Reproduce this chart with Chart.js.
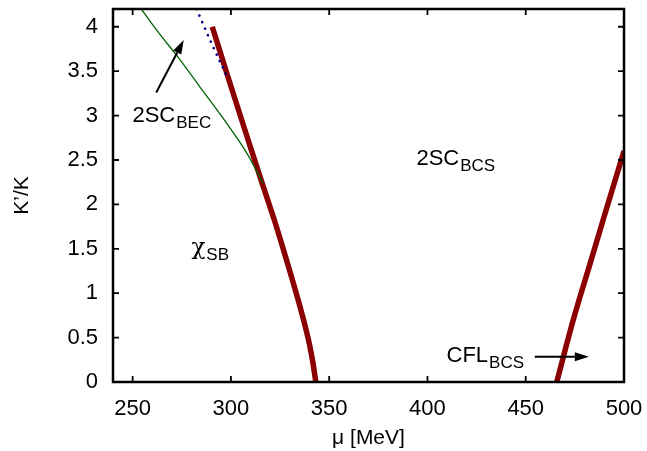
<!DOCTYPE html>
<html>
<head>
<meta charset="utf-8">
<script src="https://cdn.jsdelivr.net/npm/chart.js@4.4.0/dist/chart.umd.min.js"></script>
<style>
html, body { margin: 0; padding: 0; background: #fff; }
</style>
</head>
<body>
<canvas id="chart" width="647" height="451"></canvas>
<script>
// phase boundaries (mu in MeV, K'/K)
const boundaryMu = [290.5, 300, 310, 316, 322, 327, 331, 334.5, 338, 340, 341.7, 343.2];
const boundaryK = [4.0, 3.33, 2.64, 2.23, 1.83, 1.47, 1.17, 0.90, 0.61, 0.42, 0.22, 0];
const cflMu = [465.8, 474.2, 482.7, 491.2, 500];
const cflK = [0, 0.70, 1.33, 1.96, 2.6];
const becMu = [254.4, 263, 273, 284, 296, 308, 316.3];
const becK = [4.2, 3.94, 3.66, 3.33, 2.97, 2.58, 2.24];
const dotMu = [282.5, 290, 298];
const dotK = [4.2, 3.82, 3.44];

const xTicks = [250, 300, 350, 400, 450, 500];
const yTicks = [0, 0.5, 1, 1.5, 2, 2.5, 3, 3.5, 4];

// region labels: main text + subscript, anchored at baseline (mu, K)
const labelMain = ['2SC', 'χ', '2SC', 'CFL'];
const labelSub = ['BEC', 'SB', 'BCS', 'BCS'];
const labelMu = [249.9, 279.9, 394.4, 409.7];
const labelK = [2.93, 1.44, 2.44, 0.23];

// arrows (tail -> head)
const arrowFromMu = [262.0, 454.6];
const arrowFromK = [3.26, 0.285];
const arrowToMu = [276.0, 482.1];
const arrowToK = [3.85, 0.285];

const FONT = '"Liberation Sans", Arial, sans-serif';

function pts(xs, ys) {
    return xs.map((v, i) => ({ x: v, y: ys[i] }));
}

const decor = {
    id: 'decor',
    afterDraw(chart) {
        const { ctx, chartArea: a, scales: { x, y } } = chart;
        ctx.save();
        ctx.strokeStyle = '#000';
        ctx.fillStyle = '#000';

        // labels
        ctx.textAlign = 'left';
        ctx.textBaseline = 'alphabetic';
        labelMain.forEach((t, i) => {
            const px = x.getPixelForValue(labelMu[i]);
            const py = y.getPixelForValue(labelK[i]);
            // greek letters look like the symbol font in the original
            ctx.font = t === 'χ' ? '23px "DejaVu Serif", serif' : '22px ' + FONT;
            ctx.fillText(t, px, py);
            const w = ctx.measureText(t).width;
            ctx.font = '17px ' + FONT;
            ctx.fillText(labelSub[i], px + w + 1, py + 6);
        });

        // arrows
        ctx.lineWidth = 2;
        arrowFromMu.forEach((m, i) => {
            const x0 = x.getPixelForValue(m), y0 = y.getPixelForValue(arrowFromK[i]);
            const x1 = x.getPixelForValue(arrowToMu[i]), y1 = y.getPixelForValue(arrowToK[i]);
            const ang = Math.atan2(y1 - y0, x1 - x0);
            const c = Math.cos(ang), s = Math.sin(ang);
            const head = 14, half = 4.5;
            ctx.beginPath();
            ctx.moveTo(x0, y0);
            ctx.lineTo(x1 - head * c, y1 - head * s);
            ctx.stroke();
            ctx.beginPath();
            ctx.moveTo(x1, y1);
            ctx.lineTo(x1 - head * c + half * s, y1 - head * s - half * c);
            ctx.lineTo(x1 - head * c - half * s, y1 - head * s + half * c);
            ctx.closePath();
            ctx.fill();
        });

        // frame
        ctx.lineWidth = 2.5;
        ctx.strokeRect(a.left, a.top, a.right - a.left, a.bottom - a.top);

        // inward ticks on all four sides
        ctx.lineWidth = 1.8;
        ctx.beginPath();
        xTicks.forEach(v => {
            const px = x.getPixelForValue(v);
            ctx.moveTo(px, a.bottom); ctx.lineTo(px, a.bottom - 6);
            ctx.moveTo(px, a.top); ctx.lineTo(px, a.top + 6);
        });
        yTicks.forEach(v => {
            const py = y.getPixelForValue(v);
            ctx.moveTo(a.left, py); ctx.lineTo(a.left + 6, py);
            ctx.moveTo(a.right, py); ctx.lineTo(a.right - 6, py);
        });
        ctx.stroke();
        ctx.restore();
    }
};

const ctx = document.getElementById('chart').getContext('2d');
new Chart(ctx, {
    type: 'scatter',
    data: {
        datasets: [
            { data: pts(becMu, becK), borderColor: '#006400', borderWidth: 1.3 },
            { data: pts(dotMu, dotK), borderColor: '#00008b', borderWidth: 2.6,
              borderDash: [0.1, 7], borderCapStyle: 'round' },
            { data: pts(boundaryMu, boundaryK), borderColor: '#8b0000', borderWidth: 5.5 },
            { data: pts(cflMu, cflK), borderColor: '#8b0000', borderWidth: 5.5 }
        ].map(d => Object.assign({ showLine: true, pointRadius: 0, fill: false, cubicInterpolationMode: 'monotone' }, d))
    },
    options: {
        responsive: false,
        animation: false,
        layout: { padding: { top: 9, right: 23, left: 0, bottom: 0 } },
        plugins: { legend: { display: false }, tooltip: { enabled: false } },
        scales: {
            x: {
                type: 'linear', min: 240, max: 500,
                afterBuildTicks: s => { s.ticks = xTicks.map(v => ({ value: v })); },
                afterFit: s => { s.height = 69; s.paddingLeft = 0; s.paddingRight = 0; },
                grid: { display: false },
                border: { display: false },
                ticks: { color: '#000', font: { family: FONT, size: 22 }, padding: 6, maxRotation: 0, autoSkip: false },
                title: { display: true, text: 'μ [MeV]', color: '#000', font: { family: FONT, size: 21 }, padding: { top: 0, bottom: 0 } }
            },
            y: {
                type: 'linear', min: 0, max: 4.2,
                afterBuildTicks: s => { s.ticks = yTicks.map(v => ({ value: v })); },
                afterFit: s => { s.width = 113; s.paddingTop = 0; s.paddingBottom = 0; },
                grid: { display: false },
                border: { display: false },
                ticks: { color: '#000', font: { family: FONT, size: 22 }, padding: 7, autoSkip: false,
                         callback: v => String(v) },
                title: { display: true, text: 'K’/K', color: '#000', font: { family: FONT, size: 21 }, padding: { top: 10, bottom: 0 } }
            }
        }
    },
    plugins: [decor]
});
</script>
</body>
</html>
